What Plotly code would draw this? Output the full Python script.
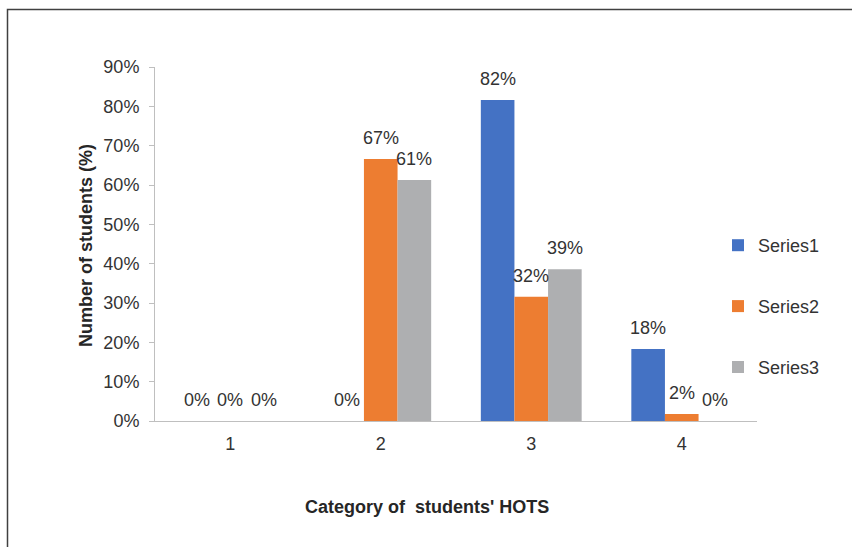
import plotly.graph_objects as go

categories = ["1", "2", "3", "4"]
series1 = [0.0, 0.0, 0.816, 0.183]
series2 = [0.0, 0.666, 0.316, 0.018]
series3 = [0.0, 0.613, 0.386, 0.0]
series_names = ["Series1", "Series2", "Series3"]
colors = ["#4472C4", "#ED7D31", "#AEAFB1"]
y_ticks = [0, 0.1, 0.2, 0.3, 0.4, 0.5, 0.6, 0.7, 0.8, 0.9]

W, H = 852, 547
L, R, T, B = 155, 95, 67, 126
pw, ph = W - L - R, H - T - B
BARGAP = 0.33

def px_x(p):
    return (p - L) / pw

def px_y(p):
    return (H - B - p) / ph

font_family = "Liberation Sans, Arial, sans-serif"
txt_color = "#333333"
FS = 18

all_series = [series1, series2, series3]
fig = go.Figure()
for name, vals, col in zip(series_names, all_series, colors):
    fig.add_trace(go.Bar(
        x=categories, y=vals, name=name, legendgroup=name,
        marker=dict(color=col, line=dict(width=0)),
    ))

# data labels placed above each bar of the group
cat_px = pw / len(categories)
bar_px = cat_px * (1 - BARGAP) / len(all_series)
annotations = []
for i, vals in enumerate(all_series):
    for j, v in enumerate(vals):
        annotations.append(dict(
            x=j, y=v, xref="x", yref="y", text=f"{round(v * 100):.0f}%",
            showarrow=False, xanchor="center", yanchor="bottom",
            xshift=(i - 1) * bar_px, yshift=9,
            font=dict(size=FS, color=txt_color),
        ))

annotations += [
    dict(text="<b>Category of&nbsp; students' HOTS</b>", xref="paper", yref="paper",
         x=px_x(427), y=px_y(507), xanchor="center", yanchor="middle",
         showarrow=False, font=dict(size=FS, color="#262626")),
    dict(text="<b>Number of students (%)</b>", xref="paper", yref="paper",
         x=px_x(86), y=px_y(246), xanchor="center", yanchor="middle",
         textangle=-90, showarrow=False, font=dict(size=FS, color="#262626")),
]

fig.update_layout(
    width=W, height=H,
    margin=dict(l=L, r=R, t=T, b=B),
    paper_bgcolor="white", plot_bgcolor="white",
    barmode="group", bargap=BARGAP, bargroupgap=0,
    font=dict(family=font_family, size=FS, color=txt_color),
    showlegend=True,
    legend=dict(
        x=px_x(718), y=px_y(227), xanchor="left", yanchor="top",
        font=dict(size=FS, color=txt_color),
        tracegroupgap=34.5, itemwidth=30,
        bgcolor="rgba(0,0,0,0)",
    ),
    xaxis=dict(
        type="category", range=[-0.5, len(categories) - 0.5],
        showline=True, linecolor="#BFBFBF", linewidth=1,
        ticks="", showgrid=False, tickfont=dict(size=FS, color=txt_color),
        ticklabelstandoff=6,
    ),
    yaxis=dict(
        range=[0, 0.9], tickvals=y_ticks, tickformat=".0%",
        showline=True, linecolor="#BFBFBF", linewidth=1,
        ticks="outside", ticklen=5, tickcolor="#BFBFBF",
        showgrid=False, zeroline=False,
        tickfont=dict(size=FS, color=txt_color),
        ticklabelstandoff=6,
    ),
    annotations=annotations,
    shapes=[
        dict(type="rect", xref="paper", yref="paper",
             x0=px_x(7.5), y0=px_y(600), x1=px_x(900), y1=px_y(9.5),
             line=dict(color="#404040", width=1.5), fillcolor="rgba(0,0,0,0)",
             layer="below"),
    ],
)

fig.write_html("out.html")
